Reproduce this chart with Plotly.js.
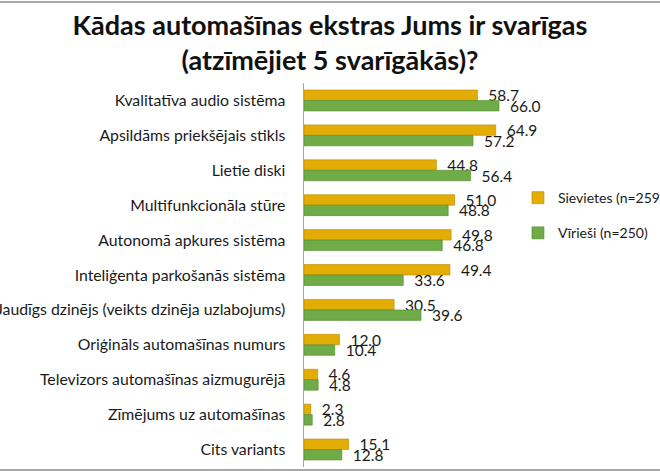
<!DOCTYPE html>
<html>
<head>
<meta charset="utf-8">
<script src="https://cdn.plot.ly/plotly-3.0.1.min.js"></script>
<style>html,body{margin:0;padding:0;background:#fff;}#chart{width:660px;height:471px;}</style>
</head>
<body>
<div id="chart"></div>
<script>
const categories = [
  "Kvalitatīva audio sistēma",
  "Apsildāms priekšējais stikls",
  "Lietie diski",
  "Multifunkcionāla stūre",
  "Autonomā apkures sistēma",
  "Inteliģenta parkošanās sistēma",
  "Jaudīgs dzinējs (veikts dzinēja uzlabojums)",
  "Oriģināls automašīnas numurs",
  "Televizors automašīnas aizmugurējā",
  "Zīmējums uz automašīnas",
  "Cits variants"
];
const seriesNames = ["Sievietes (n=259)", "Vīrieši (n=250)"];
const women = [58.7, 64.9, 44.8, 51.0, 49.8, 49.4, 30.5, 12.0, 4.6, 2.3, 15.1];
const men   = [66.0, 57.2, 56.4, 48.8, 46.8, 33.6, 39.6, 10.4, 4.8, 2.8, 12.8];

const font = "Lato, 'Open Sans', sans-serif";
const nb = "\u00a0\u00a0";

function trace(vals, name, color, line, grp) {
  return {
    type: "bar", orientation: "h",
    x: vals, y: categories, name: name,
    legendgroup: grp,
    marker: {color: color, line: {color: line, width: 0.6}},
    text: vals.map(v => nb + v.toFixed(1)),
    textposition: "outside",
    textfont: {family: font, size: 15.5, color: "#1a1a1a"},
    constraintext: "none",
    cliponaxis: false,
    hoverinfo: "x+y"
  };
}

const data = [
  trace(women, seriesNames[0], "#E3AD05", "#B98A00", "a"),
  trace(men, seriesNames[1], "#6FAB47", "#4F8A2E", "b")
];

const layout = {
  width: 660, height: 471,
  paper_bgcolor: "#fff", plot_bgcolor: "#fff",
  margin: {l: 304, r: 0, t: 83, b: 4, pad: 0, autoexpand: false},
  font: {family: font, size: 15.5, color: "#1a1a1a"},
  title: {
    text: "Kādas automašīnas ekstras Jums ir svarīgas<br>(atzīmējiet 5 svarīgākās)?",
    font: {family: font, size: 27, color: "#111", weight: 700},
    xref: "container", x: 0.5, xanchor: "center",
    yref: "container", y: 0.926, yanchor: "top"
  },
  barmode: "group", bargap: 0.4, bargroupgap: 0,
  xaxis: {range: [0, 120.5], visible: false, fixedrange: true},
  yaxis: {
    autorange: "reversed", showline: true, linecolor: "#a6a6a6", linewidth: 1.5,
    showgrid: false, zeroline: false, ticks: "", ticklabelstandoff: 14,
    tickfont: {family: font, size: 15.8, color: "#1a1a1a"}, automargin: false
  },
  showlegend: true,
  legend: {
    x: 0.601, xanchor: "left", y: 0.742, yanchor: "top",
    traceorder: "grouped", tracegroupgap: 14,
    font: {family: font, size: 14, color: "#1a1a1a"},
    bgcolor: "rgba(0,0,0,0)"
  },
  shapes: [
    {type: "line", xref: "paper", yref: "paper", x0: -0.86, x1: 1.01, y0: 1.2109, y1: 1.2109, line: {color: "#a8a8a8", width: 2}},
    {type: "line", xref: "paper", yref: "paper", x0: -0.86, x1: 1.01, y0: -0.008, y1: -0.008, line: {color: "#a8a8a8", width: 2}}
  ]
};

Plotly.newPlot("chart", data, layout, {displayModeBar: false, staticPlot: true});
</script>
</body>
</html>
